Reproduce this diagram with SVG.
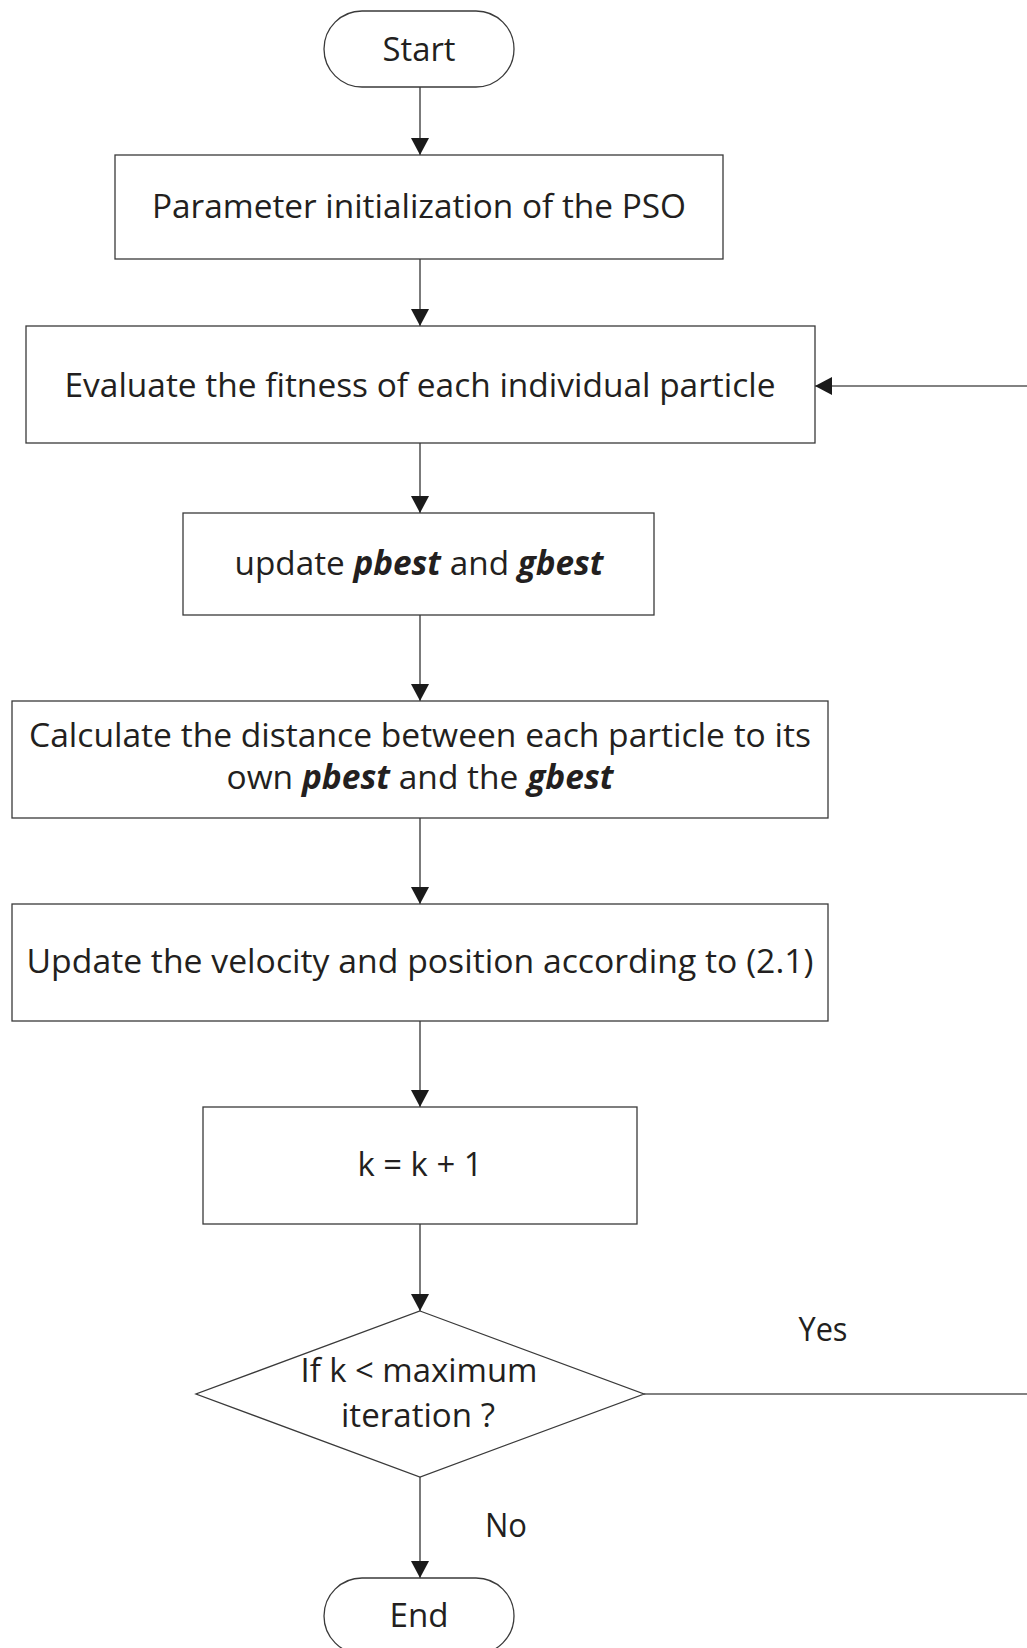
<svg xmlns="http://www.w3.org/2000/svg" width="1027" height="1648" viewBox="0 0 1027 1648">
  <style>
    .shape { fill: #ffffff; stroke: #3a3a3a; stroke-width: 1.3; }
    .link { fill: none; stroke: #5a5a5a; stroke-width: 1.6; }
    .label { font-family: "Open Sans", "Noto Sans", "Liberation Sans", sans-serif; font-size: 33.5px; fill: #231f20; text-anchor: middle; }
    .em { font-weight: bold; font-style: italic; }
  </style>
  <defs>
    <marker id="arrow" markerUnits="userSpaceOnUse" markerWidth="18" markerHeight="18" refX="17" refY="9" orient="auto">
      <path d="M0,0 L17,9 L0,18 Z" fill="#1a1a1a"/>
    </marker>
  </defs>
  <rect width="1027" height="1648" fill="#ffffff"/>

  <g id="connectors">
    <line class="link" x1="420" y1="87" x2="420" y2="155" marker-end="url(#arrow)"/>
    <line class="link" x1="420" y1="259" x2="420" y2="326" marker-end="url(#arrow)"/>
    <line class="link" x1="420" y1="443" x2="420" y2="513" marker-end="url(#arrow)"/>
    <line class="link" x1="420" y1="615" x2="420" y2="701" marker-end="url(#arrow)"/>
    <line class="link" x1="420" y1="818" x2="420" y2="904" marker-end="url(#arrow)"/>
    <line class="link" x1="420" y1="1021" x2="420" y2="1107" marker-end="url(#arrow)"/>
    <line class="link" x1="420" y1="1224" x2="420" y2="1311" marker-end="url(#arrow)"/>
    <line class="link" x1="420" y1="1477" x2="420" y2="1578" marker-end="url(#arrow)"/>
    <polyline class="link" points="644,1394 1029,1394 1029,386 815,386" marker-end="url(#arrow)"/>
    <text class="label" x="823" y="1341" textLength="49" lengthAdjust="spacingAndGlyphs">Yes</text>
    <text class="label" x="506" y="1537" textLength="42" lengthAdjust="spacingAndGlyphs">No</text>
  </g>

  <g id="start">
    <rect class="shape" x="324" y="11" width="190" height="76" rx="38" ry="38"/>
    <text class="label" x="419" y="61" textLength="73" lengthAdjust="spacingAndGlyphs">Start</text>
  </g>

  <g id="init">
    <rect class="shape" x="115" y="155" width="608" height="104"/>
    <text class="label" x="419" y="218" textLength="534" lengthAdjust="spacingAndGlyphs">Parameter initialization of the PSO</text>
  </g>

  <g id="evaluate">
    <rect class="shape" x="26" y="326" width="789" height="117"/>
    <text class="label" x="420" y="397" textLength="711" lengthAdjust="spacingAndGlyphs">Evaluate the fitness of each individual particle</text>
  </g>

  <g id="update-best">
    <rect class="shape" x="183" y="513" width="471" height="102"/>
    <text class="label" x="419" y="575" textLength="369" lengthAdjust="spacingAndGlyphs">update <tspan class="em">pbest</tspan> and <tspan class="em">gbest</tspan></text>
  </g>

  <g id="distance">
    <rect class="shape" x="12" y="701" width="816" height="117"/>
    <text class="label" x="420" y="747" textLength="782" lengthAdjust="spacingAndGlyphs">Calculate the distance between each particle to its</text>
    <text class="label" x="420" y="789" textLength="387" lengthAdjust="spacingAndGlyphs">own <tspan class="em">pbest</tspan> and the <tspan class="em">gbest</tspan></text>
  </g>

  <g id="velocity">
    <rect class="shape" x="12" y="904" width="816" height="117"/>
    <text class="label" x="420" y="973" textLength="787" lengthAdjust="spacingAndGlyphs">Update the velocity and position according to (2.1)</text>
  </g>

  <g id="increment">
    <rect class="shape" x="203" y="1107" width="434" height="117"/>
    <text class="label" x="420" y="1176" textLength="125" lengthAdjust="spacingAndGlyphs">k = k + 1</text>
  </g>

  <g id="decision">
    <polygon class="shape" points="420,1311 644,1394 420,1477 196,1394"/>
    <text class="label" x="419" y="1382" textLength="237" lengthAdjust="spacingAndGlyphs">If k &lt; maximum</text>
    <text class="label" x="418" y="1427" textLength="154" lengthAdjust="spacingAndGlyphs">iteration ?</text>
  </g>

  <g id="end">
    <rect class="shape" x="324" y="1578" width="190" height="76" rx="38" ry="38"/>
    <text class="label" x="419" y="1627" textLength="59" lengthAdjust="spacingAndGlyphs">End</text>
  </g>
</svg>
